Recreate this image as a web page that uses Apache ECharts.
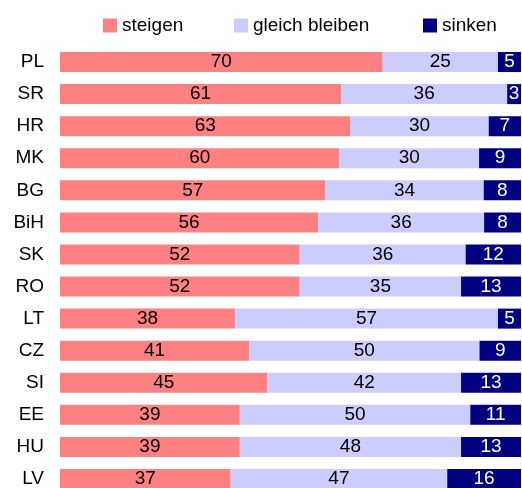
<!DOCTYPE html>
<html>
<head>
<meta charset="utf-8">
<script src="https://cdn.jsdelivr.net/npm/echarts@6/dist/echarts.min.js"></script>
<style>
  html, body { margin: 0; padding: 0; background: #fff; overflow: hidden; }
  /* etwas höher als das Fenster: die letzte Zeile wird unten abgeschnitten */
  #chart { width: 522px; height: 500px; }
</style>
</head>
<body>
<div id="chart"></div>
<script>
// Länder (von oben nach unten)
var laender = ['PL', 'SR', 'HR', 'MK', 'BG', 'BiH', 'SK', 'RO', 'LT', 'CZ', 'SI', 'EE', 'HU', 'LV'];
// Werte in Prozent
var steigen = [70, 61, 63, 60, 57, 56, 52, 52, 38, 41, 45, 39, 39, 37];
var gleich = [25, 36, 30, 30, 34, 36, 36, 35, 57, 50, 42, 50, 48, 47];
var sinken = [5, 3, 7, 9, 8, 8, 12, 13, 5, 9, 13, 11, 13, 16];

var namen = ['steigen', 'gleich bleiben', 'sinken'];
var farben = ['#ff8080', '#ccccff', '#000080'];
var textFarben = ['#000', '#000', '#fff'];
var reihen = [steigen, gleich, sinken];

var schrift = 'Liberation Sans';

// jede Zeile auf 100 % normieren (Balken immer volle Breite)
function anteil(werte) {
    return werte.map(function (v, i) {
        var summe = steigen[i] + gleich[i] + sinken[i];
        return { value: v / summe * 100, roh: v };
    });
}

var chart = echarts.init(document.getElementById('chart'));

var legendLinks = [103, 234, 423];
var legenden = namen.map(function (n, i) {
    return {
        data: [n],
        left: legendLinks[i],
        top: 16,
        itemWidth: 14,
        itemHeight: 14,
        itemGap: 0,
        icon: 'rect',
        textStyle: { fontFamily: schrift, fontSize: 19, color: '#000' },
        padding: 0
    };
});

var option = {
    animation: false,
    legend: legenden,
    grid: { left: 60, right: 1, top: 46, height: 449 },
    xAxis: { type: 'value', min: 0, max: 100, show: false },
    yAxis: {
        type: 'category',
        data: laender,
        inverse: true,
        axisLine: { show: false },
        axisTick: { show: false },
        axisLabel: { fontFamily: schrift, fontSize: 19, color: '#000', margin: 16 }
    },
    series: reihen.map(function (werte, i) {
        return {
            name: namen[i],
            type: 'bar',
            stack: 'gesamt',
            barWidth: 20,
            data: anteil(werte),
            itemStyle: { color: farben[i] },
            label: {
                show: true,
                position: 'inside',
                fontFamily: schrift,
                fontSize: 19,
                color: textFarben[i],
                formatter: function (p) { return p.data.roh; }
            }
        };
    })
};

chart.setOption(option);
</script>
</body>
</html>
